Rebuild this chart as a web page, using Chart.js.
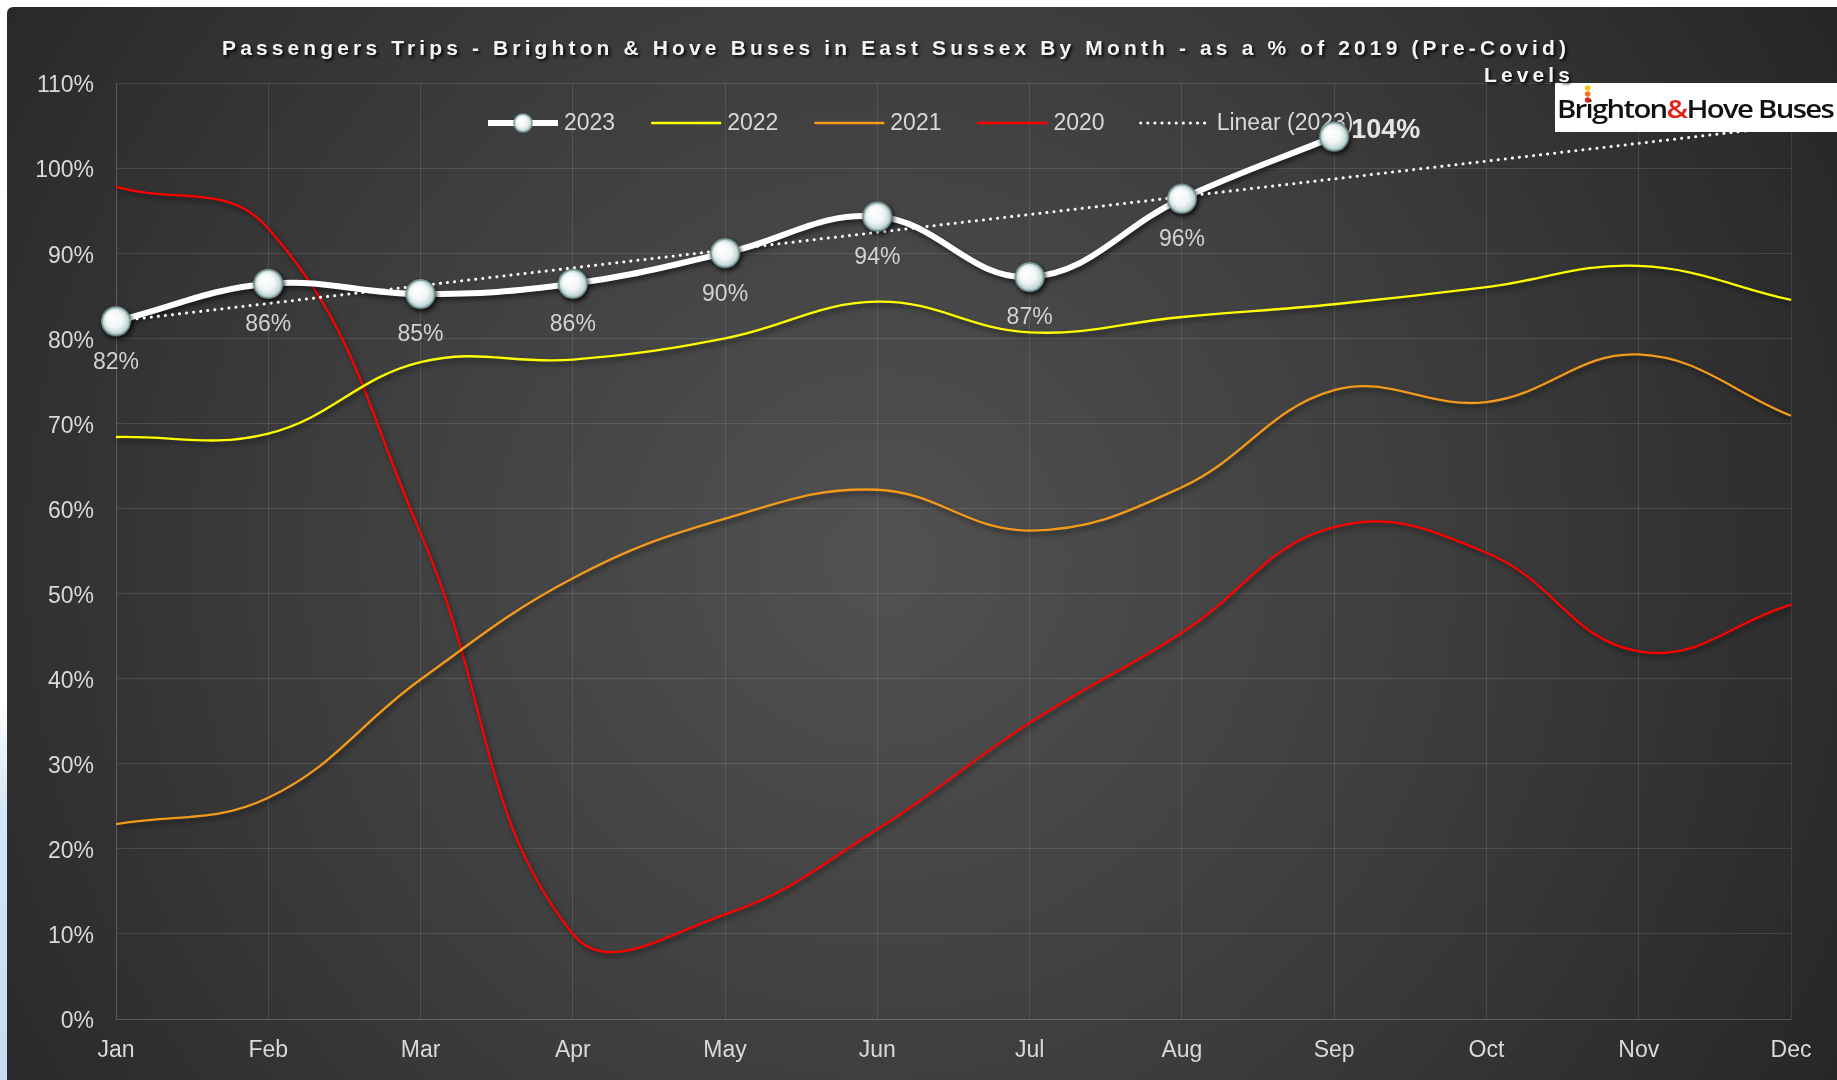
<!DOCTYPE html>
<html lang="en">
<head>
  <meta charset="UTF-8">
  <title>Passengers Trips - Brighton & Hove Buses</title>
  <script src="https://cdn.jsdelivr.net/npm/chart.js"></script>
  <style>
    body { margin: 0; background: #fff; }
    #wrap { width: 1837px; height: 1080px; position: relative; }
  </style>
</head>
<body>
  <div id="wrap"><canvas id="busChart"></canvas></div>

  <script>
    // values (% of 2019 levels)
    const months = ['Jan', 'Feb', 'Mar', 'Apr', 'May', 'Jun', 'Jul', 'Aug', 'Sep', 'Oct', 'Nov', 'Dec'];
    const trips2023 = [82.0, 86.4, 85.2, 86.4, 90.0, 94.3, 87.2, 96.4, 103.7, null, null, null];
    const trips2022 = [68.4, 68.8, 77.2, 77.5, 80.0, 84.3, 80.7, 82.5, 84.0, 86.0, 88.5, 84.5];
    const trips2021 = [22.9, 26.0, 39.9, 51.8, 58.8, 62.2, 57.4, 62.5, 73.9, 72.5, 78.1, 70.9];
    const trips2020 = [97.8, 92.9, 57.1, 10.0, 12.3, 22.3, 34.8, 45.4, 57.8, 54.8, 43.2, 48.7];
    const linear2023 = [82.0, null, null, null, null, null, null, null, null, null, null, 105.0];
    const yMin = 0, yMax = 110, yStep = 10;

    const FONT = '"Liberation Sans", Arial, sans-serif';
    const TXT = '#d9d9d9';
    const GRID = 'rgba(255,255,255,0.11)';

    // glossy sphere marker
    function makeSphere(r) {
      const c = document.createElement('canvas');
      c.width = c.height = r * 2 + 4;
      const g = c.getContext('2d');
      const cx = c.width / 2, cy = c.height / 2;
      const grad = g.createRadialGradient(cx - r * 0.3, cy - r * 0.35, r * 0.1, cx, cy, r);
      grad.addColorStop(0, '#ffffff');
      grad.addColorStop(0.55, '#f2f6f6');
      grad.addColorStop(0.85, '#c9dcdc');
      grad.addColorStop(1, '#9fbcbc');
      g.beginPath();
      g.arc(cx, cy, r, 0, Math.PI * 2);
      g.fillStyle = grad;
      g.fill();
      g.lineWidth = 1.5;
      g.strokeStyle = '#7c9a9a';
      g.stroke();
      return c;
    }
    const sphere = makeSphere(14);
    const sphereSmall = makeSphere(9);

    const backgroundPlugin = {
      id: 'bg',
      beforeDraw(chart) {
        const ctx = chart.ctx, w = chart.width, h = chart.height;
        ctx.save();
        ctx.fillStyle = '#ffffff';
        ctx.fillRect(0, 0, w, h);
        const blue = ctx.createLinearGradient(0, 700, 0, h);
        blue.addColorStop(0, 'rgba(200,222,240,0)');
        blue.addColorStop(0.3, '#d4e6f4');
        blue.addColorStop(1, '#c4dcf2');
        ctx.fillStyle = blue;
        ctx.fillRect(0, 700, 8, h - 700);
        const bg = ctx.createRadialGradient(880, 560, 40, 880, 560, 1150);
        bg.addColorStop(0, '#505050');
        bg.addColorStop(0.45, '#3e3e3e');
        bg.addColorStop(1, '#242424');
        ctx.fillStyle = bg;
        ctx.beginPath();
        ctx.roundRect(7, 7, w - 7, h - 7, [6, 0, 0, 0]);
        ctx.fill();
        ctx.restore();
      }
    };

    const titlePlugin = {
      id: 'titleText',
      afterDraw(chart) {
        const ctx = chart.ctx;
        const line1 = 'Passengers Trips - Brighton & Hove Buses in East Sussex By Month - as a % of 2019 (Pre-Covid)';
        const line2 = 'Levels';
        const left = 222, right = 1570;
        ctx.save();
        ctx.font = 'bold 21px ' + FONT;
        ctx.letterSpacing = '0px';
        const raw = ctx.measureText(line1).width;
        const sp = (right - left - raw) / line1.length;
        ctx.letterSpacing = sp.toFixed(2) + 'px';
        ctx.fillStyle = '#f4f4f4';
        ctx.shadowColor = 'rgba(0,0,0,0.85)';
        ctx.shadowBlur = 3;
        ctx.shadowOffsetX = 2;
        ctx.shadowOffsetY = 2;
        ctx.textBaseline = 'middle';
        ctx.textAlign = 'left';
        ctx.fillText(line1, left, 49);
        const w2 = ctx.measureText(line2).width;
        ctx.fillText(line2, right - w2 + sp, 76);
        ctx.restore();
      }
    };

    const legendPlugin = {
      id: 'innerLegend',
      beforeDatasetsDraw(chart) {
        const ctx = chart.ctx;
        const names = ['2023', '2022', '2021', '2020', 'Linear (2023)'];
        const y = 123;
        let x = 488;
        ctx.save();
        ctx.font = '23px ' + FONT;
        ctx.textBaseline = 'middle';
        names.forEach((name, i) => {
          const ds = chart.data.datasets[i];
          ctx.save();
          ctx.strokeStyle = ds.borderColor;
          ctx.lineWidth = ds.borderWidth;
          ctx.lineCap = ds.borderCapStyle || 'butt';
          ctx.setLineDash(ds.borderDash || []);
          ctx.beginPath();
          ctx.moveTo(x, y);
          ctx.lineTo(x + 70, y);
          ctx.stroke();
          if (i === 0) ctx.drawImage(sphereSmall, x + 35 - sphereSmall.width / 2, y - sphereSmall.height / 2);
          ctx.restore();
          ctx.fillStyle = TXT;
          ctx.fillText(name, x + 76, y + 1);
          x += 76 + ctx.measureText(name).width + 36;
        });
        ctx.restore();
      }
    };

    const shadowPlugin = {
      id: 'lineShadow',
      beforeDatasetDraw(chart, args) {
        const ctx = chart.ctx;
        ctx.save();
        if (args.index !== 4) {
          ctx.shadowColor = 'rgba(0,0,0,0.55)';
          ctx.shadowBlur = 5;
          ctx.shadowOffsetX = 2;
          ctx.shadowOffsetY = 3;
        }
      },
      afterDatasetDraw(chart) {
        chart.ctx.restore();
      }
    };

    const overlayPlugin = {
      id: 'overlay',
      afterDatasetsDraw(chart) {
        const ctx = chart.ctx;
        const meta = chart.getDatasetMeta(0);
        // markers of 2023 on top of the trend line
        ctx.save();
        ctx.shadowColor = 'rgba(0,0,0,0.5)';
        ctx.shadowBlur = 4;
        ctx.shadowOffsetX = 1;
        ctx.shadowOffsetY = 2;
        meta.data.forEach(pt => { if (!pt.skip) pt.draw(ctx, chart.chartArea); });
        ctx.restore();

        // data labels
        ctx.save();
        ctx.textBaseline = 'middle';
        meta.data.forEach((pt, i) => {
          const v = trips2023[i];
          if (v === null) return;
          const txt = Math.round(v) + '%';
          if (i === 8) {
            ctx.font = 'bold 27px ' + FONT;
            ctx.fillStyle = '#e6e6e6';
            ctx.textAlign = 'left';
            ctx.fillText(txt, pt.x + 17, pt.y - 6);
          } else {
            ctx.font = '23px ' + FONT;
            ctx.fillStyle = '#d2d2d2';
            ctx.textAlign = 'center';
            ctx.fillText(txt, pt.x, pt.y + 41);
          }
        });
        ctx.restore();

        // logo box
        ctx.save();
        ctx.fillStyle = '#ffffff';
        ctx.fillRect(1555, 83, 282, 49);
        const parts = [['Brighton', '#111111'], ['&', '#e2231a'], ['Hove Buses', '#111111']];
        ctx.font = '600 26px "Open Sans", ' + FONT;
        ctx.letterSpacing = '-1.5px';
        ctx.textBaseline = 'alphabetic';
        let total = 0;
        parts.forEach(p => total += ctx.measureText(p[0]).width);
        const sx = 276 / total;
        ctx.translate(1557, 118);
        ctx.scale(sx, 1);
        let px = 0;
        const iPos = ctx.measureText('Br').width + ctx.measureText('i').width / 2 - 1;
        parts.forEach(p => {
          ctx.fillStyle = p[1];
          ctx.fillText(p[0], px, 0);
          px += ctx.measureText(p[0]).width;
        });
        ctx.fillStyle = '#ffffff';
        ctx.fillRect(iPos - 4, -27, 8, 8);
        ctx.setTransform(1, 0, 0, 1, 0, 0);
        const dx = 1557 + iPos * sx;
        [['#f7c316', 88], ['#f07a1e', 94], ['#e2231a', 100]].forEach(d => {
          ctx.beginPath();
          ctx.arc(dx, d[1], 2.8, 0, Math.PI * 2);
          ctx.fillStyle = d[0];
          ctx.fill();
        });
        ctx.restore();
      }
    };

    const ctx = document.getElementById('busChart').getContext('2d');
    const busChart = new Chart(ctx, {
      type: 'line',
      data: {
        labels: months,
        datasets: [
          {
            label: '2023', data: trips2023, borderColor: '#ffffff', borderWidth: 6,
            pointStyle: sphere, pointRadius: 14, pointHoverRadius: 14, tension: 0.4, order: 2
          },
          { label: '2022', data: trips2022, borderColor: '#ffff00', borderWidth: 2.3, pointRadius: 0, tension: 0.4, order: 3 },
          { label: '2021', data: trips2021, borderColor: '#f39a1b', borderWidth: 2.3, pointRadius: 0, tension: 0.4, order: 4 },
          { label: '2020', data: trips2020, borderColor: '#ff0000', borderWidth: 2.3, pointRadius: 0, tension: 0.42, order: 5 },
          {
            label: 'Linear (2023)', data: linear2023, borderColor: '#ffffff', borderWidth: 3,
            borderDash: [0.1, 7], borderCapStyle: 'round', pointRadius: 0, spanGaps: true, tension: 0, order: 1
          }
        ]
      },
      options: {
        responsive: true,
        maintainAspectRatio: false,
        animation: false,
        layout: { padding: { left: 0, right: 46, top: 83, bottom: 0 } },
        plugins: {
          legend: { display: false },
          title: { display: false },
          tooltip: { enabled: false }
        },
        scales: {
          x: {
            grid: { color: GRID, drawTicks: false },
            border: { color: GRID },
            ticks: { color: TXT, font: { family: FONT, size: 23 }, padding: 18, maxRotation: 0 },
            afterFit(scale) { scale.height = 61; }
          },
          y: {
            min: yMin, max: yMax,
            grid: { color: GRID, drawTicks: false },
            border: { color: GRID },
            ticks: {
              stepSize: yStep, color: TXT, font: { family: FONT, size: 23 }, padding: 22,
              labelOffset: 3,
              callback: v => v + '%'
            },
            afterFit(scale) { scale.width = 116; }
          }
        }
      },
      plugins: [backgroundPlugin, legendPlugin, shadowPlugin, overlayPlugin, titlePlugin]
    });
  </script>
</body>
</html>
